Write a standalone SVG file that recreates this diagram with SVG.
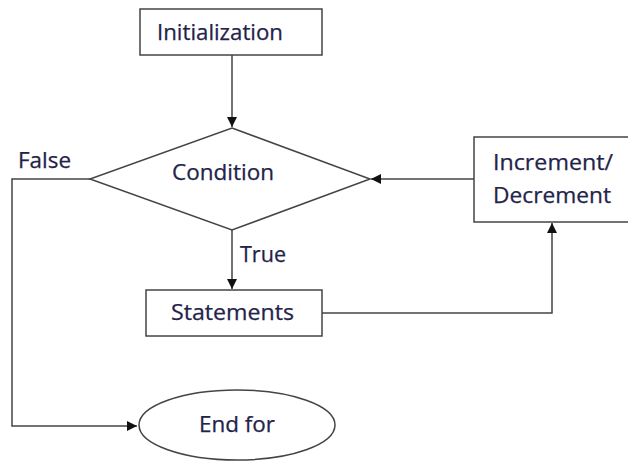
<svg xmlns="http://www.w3.org/2000/svg" width="628" height="461" viewBox="0 0 628 461">
<defs>
<style>
.shape{fill:#fff;stroke:#444;stroke-width:1.5}
.conn{fill:none;stroke:#444;stroke-width:1.5}
text{font-family:"Open Sans","Liberation Sans",sans-serif;font-size:21px;fill:#23234a;stroke:#23234a;stroke-width:0.25}
.c{text-anchor:middle}
</style>
<marker id="ah" viewBox="0 0 10 10" refX="10" refY="5" markerWidth="10" markerHeight="10" markerUnits="userSpaceOnUse" orient="auto">
<path d="M0,0 L10,5 L0,10 z" fill="#111"/>
</marker>
</defs>
<rect width="628" height="461" fill="#fff"/>
<g id="connectors">
<path class="conn" d="M232,55 V127" marker-end="url(#ah)"/>
<path class="conn" d="M232,230 V289" marker-end="url(#ah)"/>
<path class="conn" d="M322,313 H552 V223" marker-end="url(#ah)"/>
<path class="conn" d="M474,179 H371" marker-end="url(#ah)"/>
<path class="conn" d="M90,179 H12 V426 H137" marker-end="url(#ah)"/>
<text x="18" y="168" textLength="53" lengthAdjust="spacingAndGlyphs">False</text>
<text x="240" y="262" textLength="46" lengthAdjust="spacingAndGlyphs">True</text>
</g>
<g id="init">
<rect class="shape" x="140" y="9" width="182" height="46"/>
<text x="157" y="40" textLength="126" lengthAdjust="spacingAndGlyphs">Initialization</text>
</g>
<g id="condition">
<polygon class="shape" points="232,128 370,179 232,230 90,179"/>
<text x="172" y="180" textLength="102" lengthAdjust="spacingAndGlyphs">Condition</text>
</g>
<g id="incdec">
<rect class="shape" x="474" y="137" width="160" height="85"/>
<text x="493" y="170" textLength="120" lengthAdjust="spacingAndGlyphs">Increment/</text>
<text x="493" y="203" textLength="118" lengthAdjust="spacingAndGlyphs">Decrement</text>
</g>
<g id="statements">
<rect class="shape" x="146" y="290" width="176" height="46"/>
<text x="171" y="320" textLength="123" lengthAdjust="spacingAndGlyphs">Statements</text>
</g>
<g id="endfor">
<ellipse class="shape" cx="237" cy="425" rx="98" ry="35"/>
<text x="199" y="432" textLength="76" lengthAdjust="spacingAndGlyphs">End for</text>
</g>
</svg>
